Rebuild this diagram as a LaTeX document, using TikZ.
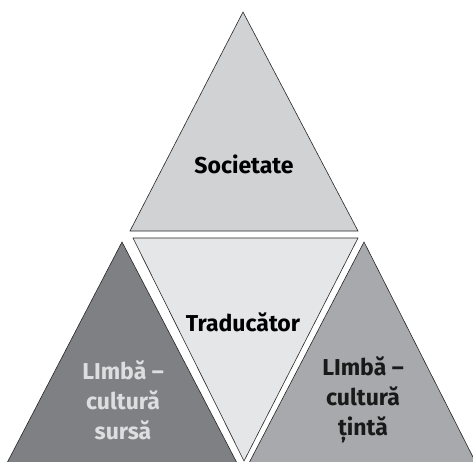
\documentclass[tikz,border=0pt]{standalone}
\usepackage{fontspec}
\setmainfont{Fira Sans}
\begin{document}
\begin{tikzpicture}[x=1pt,y=-1pt,
  tri/.style={draw=black!85, line width=0.6pt, line join=miter},
  lbl/.style={font=\fontsize{23}{30}\selectfont\bfseries, align=center, inner sep=0pt}]
\useasboundingbox (0,0) rectangle (473,461);
\definecolor{ctop}{HTML}{D1D2D4}
\definecolor{cmid}{HTML}{E5E6E8}
\definecolor{cleft}{HTML}{7F8084}
\definecolor{cright}{HTML}{A8A9AC}
\definecolor{cltxt}{HTML}{DDDEE0}
\begin{scope}
\clip (0,0) rectangle (473,461);
\filldraw[tri, fill=ctop] (243,12) -- (358,231) -- (130,231) -- cycle;
\filldraw[tri, fill=cmid] (133,238) -- (358,238) -- (244,461) -- cycle;
\filldraw[tri, fill=cleft] (122,242) -- (237,463) -- (7,463) -- cycle;
\filldraw[tri, fill=cright] (364,242) -- (476,463) -- (249,463) -- cycle;
\end{scope}
\node[lbl] (soc) at (244,164) {Societate};
\node[lbl] (trad) at (243,322) {Traducător};
\node[lbl, text=cltxt] (sursa) at (123,400) {LImbă –\\cultură\\sursă};
\node[lbl, text=black!90] (tinta) at (363,400) {LImbă –\\cultură\\țintă};
\end{tikzpicture}
\end{document}
